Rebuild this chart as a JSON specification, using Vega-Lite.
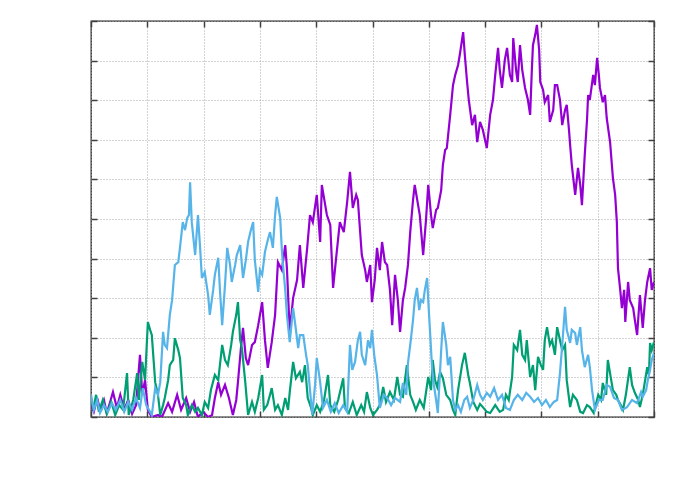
{
  "$schema": "https://vega.github.io/schema/vega-lite/v6.json",
  "width": 563,
  "height": 396,
  "autosize": "none",
  "padding": {"left": 91, "top": 21, "right": 38, "bottom": 68},
  "background": "white",
  "config": {
    "view": {"stroke": "#202020", "strokeWidth": 1.3},
    "axis": {"domain": false, "labels": false, "title": null, "tickColor": "#404040", "tickWidth": 1.5, "tickSize": -6, "gridColor": "#a8a8a8", "gridDash": [1, 2], "gridWidth": 1}
  },
  "datasets": {
    "purple": [
      {"x":0,"y":3.0},{"x":0.5,"y":1.3},{"x":1.1,"y":4.8},{"x":1.6,"y":1.8},{"x":2.3,"y":4.3},{"x":2.8,"y":1.0},{"x":3.4,"y":3.8},{"x":3.9,"y":6.3},{"x":4.6,"y":2.3},{"x":5.2,"y":5.6},{"x":5.9,"y":1.8},{"x":6.6,"y":4.3},{"x":7.3,"y":0.8},{"x":8.0,"y":3.0},{"x":8.7,"y":15.7},{"x":9.1,"y":5.6},{"x":9.6,"y":9.3},{"x":10.1,"y":1.8},{"x":10.8,"y":0},{"x":11.9,"y":0.5},{"x":12.6,"y":0},{"x":13.7,"y":3.5},{"x":14.4,"y":1.3},{"x":15.3,"y":5.6},{"x":16.0,"y":1.8},{"x":16.9,"y":4.8},{"x":17.6,"y":1.3},{"x":18.3,"y":3.8},{"x":19.0,"y":0},{"x":19.9,"y":1.3},{"x":20.8,"y":0},{"x":21.5,"y":0.5},{"x":22.0,"y":4.8},{"x":22.6,"y":8.8},{"x":23.1,"y":5.6},{"x":23.8,"y":8.1},{"x":24.5,"y":4.8},{"x":25.2,"y":0.5},{"x":25.8,"y":4.3},{"x":26.1,"y":8.8},{"x":26.6,"y":16.9},{"x":27.0,"y":22.5},{"x":27.5,"y":14.9},{"x":27.9,"y":13.1},{"x":28.6,"y":18.2},{"x":29.1,"y":18.9},{"x":29.7,"y":23.2},{"x":30.4,"y":29.0},{"x":30.9,"y":19.4},{"x":31.4,"y":12.4},{"x":32.1,"y":18.9},{"x":32.7,"y":25.8},{"x":33.2,"y":39.1},{"x":33.9,"y":37.1},{"x":34.5,"y":43.4},{"x":34.8,"y":37.6},{"x":35.3,"y":21.5},{"x":35.9,"y":30.1},{"x":36.6,"y":34.6},{"x":37.1,"y":43.4},{"x":37.7,"y":32.6},{"x":38.4,"y":42.7},{"x":38.9,"y":51.0},{"x":39.4,"y":49.2},{"x":40.1,"y":56.1},{"x":40.7,"y":44.2},{"x":41.0,"y":58.6},{"x":41.6,"y":53.5},{"x":41.9,"y":51.0},{"x":42.5,"y":48.5},{"x":43.0,"y":32.6},{"x":43.5,"y":39.6},{"x":44.2,"y":49.2},{"x":44.9,"y":46.7},{"x":45.5,"y":54.3},{"x":46.0,"y":61.9},{"x":46.5,"y":52.8},{"x":47.1,"y":56.1},{"x":47.4,"y":54.8},{"x":48.1,"y":40.9},{"x":48.7,"y":37.1},{"x":49.0,"y":34.1},{"x":49.6,"y":38.4},{"x":49.9,"y":29.0},{"x":50.4,"y":34.6},{"x":50.8,"y":42.7},{"x":51.3,"y":37.1},{"x":51.7,"y":44.2},{"x":52.2,"y":39.1},{"x":52.6,"y":38.4},{"x":53.1,"y":32.1},{"x":53.5,"y":23.2},{"x":54.0,"y":35.9},{"x":54.5,"y":29.5},{"x":54.9,"y":21.5},{"x":55.4,"y":29.5},{"x":55.8,"y":32.6},{"x":56.3,"y":38.4},{"x":56.7,"y":46.7},{"x":57.2,"y":54.8},{"x":57.5,"y":58.6},{"x":58.1,"y":53.5},{"x":58.4,"y":51.0},{"x":59.0,"y":40.9},{"x":59.5,"y":49.7},{"x":59.9,"y":58.6},{"x":60.4,"y":51.0},{"x":60.7,"y":47.7},{"x":61.3,"y":52.3},{"x":61.6,"y":52.8},{"x":62.2,"y":57.3},{"x":62.5,"y":63.6},{"x":62.9,"y":67.4},{"x":63.2,"y":67.9},{"x":63.8,"y":76.3},{"x":64.3,"y":83.8},{"x":64.7,"y":86.4},{"x":65.2,"y":88.9},{"x":65.5,"y":91.4},{"x":66.1,"y":97.2},{"x":66.4,"y":91.4},{"x":66.8,"y":84.6},{"x":67.1,"y":80.1},{"x":67.7,"y":73.7},{"x":68.2,"y":76.3},{"x":68.6,"y":69.4},{"x":69.1,"y":74.5},{"x":69.6,"y":72.5},{"x":70.3,"y":67.9},{"x":70.9,"y":76.3},{"x":71.4,"y":80.1},{"x":71.8,"y":86.4},{"x":72.3,"y":93.2},{"x":72.6,"y":87.6},{"x":73.0,"y":83.1},{"x":73.5,"y":90.2},{"x":73.9,"y":93.2},{"x":74.4,"y":86.4},{"x":74.8,"y":84.6},{"x":75.0,"y":95.7},{"x":75.5,"y":87.6},{"x":75.8,"y":84.6},{"x":76.2,"y":93.9},{"x":76.6,"y":87.6},{"x":77.1,"y":83.1},{"x":77.6,"y":80.1},{"x":78.0,"y":76.3},{"x":78.3,"y":87.6},{"x":78.5,"y":93.9},{"x":78.9,"y":96.5},{"x":79.2,"y":99.0},{"x":79.6,"y":92.7},{"x":79.8,"y":84.6},{"x":80.3,"y":82.6},{"x":80.6,"y":79.5},{"x":81.2,"y":81.3},{"x":81.5,"y":74.5},{"x":82.1,"y":77.5},{"x":82.4,"y":83.8},{"x":82.8,"y":83.8},{"x":83.3,"y":80.1},{"x":83.7,"y":73.7},{"x":84.2,"y":77.5},{"x":84.5,"y":78.8},{"x":84.9,"y":72.5},{"x":85.1,"y":68.7},{"x":85.4,"y":63.6},{"x":86.0,"y":56.1},{"x":86.5,"y":62.9},{"x":86.9,"y":58.6},{"x":87.2,"y":53.5},{"x":87.7,"y":66.2},{"x":88.1,"y":75.0},{"x":88.3,"y":81.3},{"x":88.6,"y":80.1},{"x":89.2,"y":86.4},{"x":89.5,"y":83.8},{"x":89.9,"y":90.7},{"x":90.2,"y":86.4},{"x":90.4,"y":83.1},{"x":90.9,"y":79.5},{"x":91.3,"y":81.3},{"x":91.6,"y":75.5},{"x":92.2,"y":69.4},{"x":92.7,"y":60.4},{"x":93.1,"y":56.1},{"x":93.4,"y":49.2},{"x":93.6,"y":37.6},{"x":94.0,"y":32.1},{"x":94.3,"y":27.5},{"x":94.7,"y":32.1},{"x":94.9,"y":24.0},{"x":95.4,"y":34.1},{"x":95.7,"y":29.5},{"x":96.3,"y":27.5},{"x":96.6,"y":24.5},{"x":97.0,"y":20.7},{"x":97.5,"y":30.8},{"x":98.0,"y":22.5},{"x":98.4,"y":29.5},{"x":98.8,"y":34.1},{"x":99.3,"y":37.6},{"x":99.6,"y":32.1},{"x":100,"y":34.1}
    ],
    "green": [
      {"x":0,"y":4.8},{"x":0.4,"y":1.8},{"x":0.9,"y":5.6},{"x":1.4,"y":1.3},{"x":2.1,"y":4.3},{"x":2.8,"y":0.8},{"x":3.6,"y":3.8},{"x":4.3,"y":0.5},{"x":5.0,"y":3.0},{"x":5.7,"y":1.8},{"x":6.4,"y":11.1},{"x":6.7,"y":0.5},{"x":7.5,"y":4.3},{"x":8.2,"y":11.1},{"x":8.5,"y":4.3},{"x":9.1,"y":13.9},{"x":9.6,"y":9.3},{"x":10.1,"y":24.0},{"x":10.5,"y":22.0},{"x":10.8,"y":20.7},{"x":11.4,"y":8.8},{"x":11.9,"y":5.6},{"x":12.3,"y":0.5},{"x":12.8,"y":3.0},{"x":13.1,"y":4.8},{"x":13.7,"y":9.3},{"x":14.0,"y":13.1},{"x":14.6,"y":14.4},{"x":14.9,"y":19.9},{"x":15.5,"y":16.9},{"x":15.8,"y":14.9},{"x":16.3,"y":4.8},{"x":16.9,"y":3.0},{"x":17.2,"y":0.5},{"x":17.9,"y":3.0},{"x":18.5,"y":1.3},{"x":19.0,"y":2.3},{"x":19.7,"y":0.5},{"x":20.2,"y":3.8},{"x":20.8,"y":2.3},{"x":21.3,"y":6.8},{"x":22.0,"y":10.6},{"x":22.6,"y":9.3},{"x":23.3,"y":18.2},{"x":23.8,"y":14.4},{"x":24.3,"y":13.1},{"x":24.9,"y":18.2},{"x":25.2,"y":21.5},{"x":25.8,"y":25.8},{"x":26.1,"y":29.0},{"x":26.5,"y":19.4},{"x":26.8,"y":17.4},{"x":27.4,"y":8.8},{"x":27.9,"y":0.5},{"x":28.6,"y":3.8},{"x":29.1,"y":1.3},{"x":29.7,"y":4.8},{"x":30.4,"y":10.6},{"x":30.7,"y":1.8},{"x":31.3,"y":3.0},{"x":31.8,"y":5.6},{"x":32.1,"y":7.3},{"x":32.7,"y":1.8},{"x":33.2,"y":3.0},{"x":33.9,"y":0.5},{"x":34.5,"y":4.8},{"x":35.0,"y":1.8},{"x":35.3,"y":6.3},{"x":35.9,"y":13.9},{"x":36.4,"y":9.8},{"x":37.1,"y":11.4},{"x":37.5,"y":8.8},{"x":38.0,"y":13.1},{"x":38.5,"y":4.8},{"x":39.1,"y":2.3},{"x":39.4,"y":0.5},{"x":40.1,"y":3.0},{"x":40.7,"y":1.3},{"x":41.4,"y":4.3},{"x":42.1,"y":10.6},{"x":42.5,"y":3.0},{"x":43.2,"y":1.3},{"x":43.9,"y":4.3},{"x":44.8,"y":9.8},{"x":45.1,"y":2.3},{"x":45.8,"y":1.0},{"x":46.5,"y":3.8},{"x":47.2,"y":0.5},{"x":48.0,"y":3.0},{"x":48.5,"y":1.3},{"x":49.0,"y":6.3},{"x":49.6,"y":2.3},{"x":50.1,"y":0.5},{"x":50.8,"y":1.8},{"x":51.3,"y":3.0},{"x":51.9,"y":7.6},{"x":52.4,"y":3.8},{"x":53.1,"y":6.3},{"x":53.8,"y":4.3},{"x":54.4,"y":10.1},{"x":54.9,"y":5.6},{"x":55.4,"y":5.1},{"x":56.1,"y":13.1},{"x":56.7,"y":5.6},{"x":57.2,"y":3.8},{"x":57.7,"y":1.8},{"x":58.4,"y":4.3},{"x":59.1,"y":2.3},{"x":59.9,"y":10.1},{"x":60.4,"y":6.8},{"x":60.7,"y":14.4},{"x":61.1,"y":9.3},{"x":61.5,"y":7.6},{"x":62.0,"y":11.4},{"x":62.5,"y":9.8},{"x":63.1,"y":5.6},{"x":63.8,"y":4.3},{"x":64.3,"y":1.8},{"x":64.7,"y":0.5},{"x":65.2,"y":6.8},{"x":65.9,"y":13.1},{"x":66.4,"y":16.2},{"x":67.0,"y":10.6},{"x":67.3,"y":8.6},{"x":67.9,"y":3.8},{"x":68.6,"y":1.8},{"x":69.1,"y":3.3},{"x":69.6,"y":2.5},{"x":70.3,"y":1.3},{"x":70.9,"y":1.0},{"x":71.8,"y":3.0},{"x":72.6,"y":1.3},{"x":73.2,"y":1.8},{"x":73.7,"y":5.6},{"x":74.2,"y":4.3},{"x":74.8,"y":10.1},{"x":75.1,"y":18.2},{"x":75.7,"y":16.9},{"x":76.2,"y":22.0},{"x":76.6,"y":15.7},{"x":77.1,"y":14.4},{"x":77.4,"y":19.4},{"x":78.0,"y":10.1},{"x":78.5,"y":13.1},{"x":78.9,"y":6.8},{"x":79.4,"y":15.2},{"x":79.9,"y":13.1},{"x":80.3,"y":11.9},{"x":80.6,"y":19.4},{"x":81.0,"y":22.7},{"x":81.5,"y":18.2},{"x":81.9,"y":19.4},{"x":82.4,"y":15.7},{"x":82.8,"y":22.7},{"x":83.3,"y":19.4},{"x":83.7,"y":16.9},{"x":84.2,"y":18.2},{"x":84.5,"y":9.3},{"x":85.1,"y":2.5},{"x":85.6,"y":5.6},{"x":86.3,"y":4.3},{"x":86.9,"y":1.3},{"x":87.4,"y":1.0},{"x":88.1,"y":3.0},{"x":88.6,"y":2.5},{"x":89.3,"y":1.0},{"x":90.1,"y":5.6},{"x":90.6,"y":4.3},{"x":90.9,"y":8.6},{"x":91.5,"y":5.6},{"x":91.8,"y":14.4},{"x":92.4,"y":9.3},{"x":92.7,"y":6.8},{"x":93.3,"y":5.6},{"x":93.6,"y":4.3},{"x":94.1,"y":3.0},{"x":94.5,"y":1.8},{"x":95.0,"y":5.6},{"x":95.7,"y":12.6},{"x":96.1,"y":8.1},{"x":96.6,"y":6.1},{"x":97.2,"y":4.3},{"x":97.5,"y":2.5},{"x":98.0,"y":5.6},{"x":98.8,"y":12.6},{"x":99.1,"y":10.6},{"x":99.3,"y":18.7},{"x":99.6,"y":16.9},{"x":100,"y":18.9}
    ],
    "blue": [
      {"x":0,"y":5.6},{"x":0.5,"y":1.8},{"x":1.1,"y":4.3},{"x":1.6,"y":1.0},{"x":2.3,"y":3.0},{"x":3.0,"y":1.3},{"x":3.7,"y":3.5},{"x":4.4,"y":1.8},{"x":5.2,"y":4.3},{"x":5.9,"y":1.3},{"x":6.6,"y":3.8},{"x":7.3,"y":1.8},{"x":8.0,"y":4.8},{"x":8.7,"y":2.3},{"x":9.2,"y":7.3},{"x":9.8,"y":3.0},{"x":10.1,"y":2.3},{"x":10.8,"y":0.5},{"x":11.4,"y":7.3},{"x":11.9,"y":5.6},{"x":12.3,"y":8.8},{"x":12.8,"y":21.5},{"x":13.1,"y":18.2},{"x":13.5,"y":17.4},{"x":14.0,"y":25.8},{"x":14.4,"y":29.5},{"x":14.9,"y":38.4},{"x":15.5,"y":39.1},{"x":15.8,"y":42.7},{"x":16.3,"y":49.2},{"x":16.7,"y":47.2},{"x":17.1,"y":50.3},{"x":17.4,"y":51.0},{"x":17.6,"y":59.3},{"x":17.9,"y":49.2},{"x":18.5,"y":40.9},{"x":19.0,"y":51.0},{"x":19.4,"y":42.2},{"x":19.7,"y":35.1},{"x":20.2,"y":36.6},{"x":20.8,"y":30.8},{"x":21.1,"y":25.8},{"x":21.7,"y":32.1},{"x":22.0,"y":35.9},{"x":22.6,"y":40.2},{"x":22.9,"y":32.1},{"x":23.3,"y":23.2},{"x":23.8,"y":33.3},{"x":24.2,"y":42.7},{"x":24.7,"y":38.4},{"x":25.0,"y":34.1},{"x":25.6,"y":38.4},{"x":25.9,"y":40.9},{"x":26.5,"y":43.4},{"x":27.0,"y":35.1},{"x":27.5,"y":39.6},{"x":27.9,"y":44.2},{"x":28.4,"y":47.2},{"x":28.8,"y":49.2},{"x":29.1,"y":39.6},{"x":29.7,"y":31.6},{"x":30.0,"y":37.1},{"x":30.4,"y":35.9},{"x":30.9,"y":41.7},{"x":31.4,"y":44.7},{"x":31.8,"y":46.7},{"x":32.3,"y":42.7},{"x":32.7,"y":51.0},{"x":33.0,"y":55.6},{"x":33.6,"y":50.3},{"x":33.9,"y":42.2},{"x":34.1,"y":38.4},{"x":34.5,"y":32.1},{"x":34.8,"y":25.8},{"x":35.3,"y":18.9},{"x":35.9,"y":27.5},{"x":36.4,"y":22.0},{"x":36.8,"y":17.4},{"x":37.1,"y":20.7},{"x":37.7,"y":20.7},{"x":38.2,"y":15.7},{"x":38.5,"y":13.1},{"x":38.9,"y":6.8},{"x":39.3,"y":0.5},{"x":39.8,"y":8.1},{"x":40.1,"y":14.9},{"x":40.7,"y":8.8},{"x":41.2,"y":2.3},{"x":41.9,"y":4.3},{"x":42.6,"y":1.3},{"x":43.3,"y":3.5},{"x":44.0,"y":1.0},{"x":44.8,"y":3.0},{"x":45.5,"y":1.3},{"x":46.0,"y":18.2},{"x":46.4,"y":11.9},{"x":46.9,"y":13.9},{"x":47.4,"y":19.4},{"x":47.8,"y":21.5},{"x":48.1,"y":15.7},{"x":48.7,"y":13.1},{"x":49.2,"y":19.4},{"x":49.6,"y":17.4},{"x":49.9,"y":22.0},{"x":50.3,"y":15.7},{"x":50.8,"y":10.6},{"x":51.3,"y":2.3},{"x":52.0,"y":5.6},{"x":52.6,"y":4.8},{"x":53.3,"y":3.0},{"x":54.0,"y":4.8},{"x":54.9,"y":3.8},{"x":55.4,"y":8.6},{"x":56.0,"y":5.6},{"x":56.3,"y":13.6},{"x":56.8,"y":19.4},{"x":57.2,"y":24.5},{"x":57.5,"y":29.5},{"x":57.9,"y":32.6},{"x":58.3,"y":27.0},{"x":58.6,"y":29.5},{"x":59.0,"y":29.0},{"x":59.3,"y":32.1},{"x":59.7,"y":35.1},{"x":59.9,"y":29.5},{"x":60.2,"y":22.0},{"x":60.6,"y":11.9},{"x":60.9,"y":8.1},{"x":61.3,"y":4.3},{"x":61.6,"y":1.0},{"x":62.2,"y":16.9},{"x":62.5,"y":24.0},{"x":63.1,"y":18.2},{"x":63.4,"y":13.1},{"x":63.8,"y":15.2},{"x":64.3,"y":4.3},{"x":64.7,"y":1.8},{"x":65.2,"y":3.0},{"x":65.7,"y":1.3},{"x":66.3,"y":4.3},{"x":66.8,"y":5.1},{"x":67.3,"y":2.3},{"x":67.9,"y":4.3},{"x":68.6,"y":8.1},{"x":69.1,"y":5.6},{"x":69.6,"y":4.3},{"x":70.3,"y":6.1},{"x":70.9,"y":5.1},{"x":71.6,"y":7.3},{"x":72.3,"y":4.3},{"x":73.0,"y":5.6},{"x":73.7,"y":2.3},{"x":74.4,"y":1.8},{"x":75.1,"y":4.3},{"x":75.8,"y":5.6},{"x":76.6,"y":4.3},{"x":77.3,"y":6.1},{"x":78.0,"y":5.1},{"x":78.7,"y":3.8},{"x":79.4,"y":4.8},{"x":80.1,"y":3.0},{"x":80.8,"y":4.3},{"x":81.5,"y":2.5},{"x":82.2,"y":3.8},{"x":82.8,"y":4.3},{"x":83.3,"y":11.1},{"x":83.7,"y":18.2},{"x":84.2,"y":27.8},{"x":84.5,"y":22.0},{"x":85.1,"y":18.7},{"x":85.4,"y":22.0},{"x":86.0,"y":21.2},{"x":86.3,"y":18.2},{"x":86.9,"y":22.7},{"x":87.2,"y":16.9},{"x":87.7,"y":12.6},{"x":88.3,"y":15.7},{"x":88.6,"y":12.6},{"x":89.0,"y":6.8},{"x":89.5,"y":1.8},{"x":90.2,"y":4.3},{"x":90.9,"y":4.3},{"x":91.6,"y":8.1},{"x":92.2,"y":7.6},{"x":92.9,"y":4.8},{"x":93.6,"y":4.3},{"x":94.3,"y":1.8},{"x":95.2,"y":2.5},{"x":96.1,"y":4.3},{"x":97.0,"y":3.5},{"x":97.7,"y":6.3},{"x":98.0,"y":5.1},{"x":98.6,"y":6.8},{"x":98.9,"y":9.3},{"x":99.3,"y":11.9},{"x":99.6,"y":14.4},{"x":100,"y":16.2}
    ]
  },
  "layer": [
    {
      "data": {"name": "purple"},
      "mark": {"type": "line", "color": "#9400d3", "strokeWidth": 2.2, "clip": true},
      "encoding": {
        "x": {"field": "x", "type": "quantitative", "scale": {"domain": [0, 100], "nice": false, "zero": false}, "axis": {"orient": "bottom", "values": [0,10,20,30,40,50,60,70,80,90,100], "grid": true}},
        "y": {"field": "y", "type": "quantitative", "scale": {"domain": [0, 100], "nice": false}, "axis": {"orient": "left", "values": [0,10,20,30,40,50,60,70,80,90,100], "grid": true}}
      }
    },
    {
      "data": {"name": "green"},
      "mark": {"type": "line", "color": "#009e73", "strokeWidth": 2.2, "clip": true},
      "encoding": {
        "x": {"field": "x", "type": "quantitative", "axis": {"orient": "top", "values": [0,10,20,30,40,50,60,70,80,90,100], "grid": false}},
        "y": {"field": "y", "type": "quantitative", "axis": {"orient": "right", "values": [0,10,20,30,40,50,60,70,80,90,100], "grid": false}}
      }
    },
    {
      "data": {"name": "blue"},
      "mark": {"type": "line", "color": "#56b4e9", "strokeWidth": 2.2, "clip": true},
      "encoding": {
        "x": {"field": "x", "type": "quantitative", "axis": null},
        "y": {"field": "y", "type": "quantitative", "axis": null}
      }
    }
  ],
  "resolve": {"axis": {"x": "independent", "y": "independent"}}
}
